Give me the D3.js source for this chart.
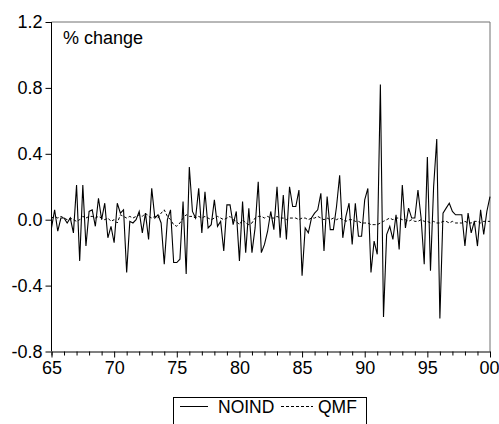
<!DOCTYPE html>
<html>
<head>
<meta charset="utf-8">
<script src="https://cdn.jsdelivr.net/npm/d3@7"></script>
<style>
  body { margin: 0; background: #fff; }
  svg { display: block; }
  text { font-family: "Liberation Sans", Arial, sans-serif; fill: #000; }
</style>
</head>
<body>
<svg id="chart" width="499" height="424"></svg>
<script>
// quarterly % change, 1965Q1 .. 2000Q1
const startYear = 1965;
const noind = [
  -0.05, 0.06, -0.07, 0.01, 0.01, -0.02, 0.01, -0.08, 0.21, -0.25,
  0.21, -0.16, 0.05, 0.06, -0.04, 0.13, 0.00, 0.10, -0.11, -0.04,
  -0.14, 0.10, 0.04, 0.06, -0.32, -0.01, -0.02, 0.00, 0.05, -0.08,
  0.04, -0.12, 0.19, 0.01, 0.03, -0.02, -0.27, 0.00, 0.06, -0.26,
  -0.26, -0.24, 0.11, -0.33, 0.32, 0.05, 0.01, 0.19, -0.08, 0.17,
  -0.05, -0.03, 0.12, -0.04, -0.01, -0.19, 0.09, 0.09, -0.03, 0.05,
  -0.25, 0.11, -0.20, 0.07, -0.20, -0.05, 0.23, -0.20, -0.15, -0.07,
  0.05, -0.06, 0.20, -0.11, 0.15, -0.12, 0.20, 0.08, 0.08, 0.18,
  -0.34, -0.05, -0.08, 0.01, 0.04, 0.06, 0.16, -0.19, 0.14, -0.06,
  -0.06, 0.08, 0.27, -0.11, 0.02, 0.10, -0.15, 0.10, -0.10, -0.10,
  0.12, 0.19, -0.32, -0.13, -0.21, 0.82, -0.59, -0.09, -0.04, -0.12,
  0.03, -0.18, 0.21, -0.05, 0.07, 0.01, 0.01, 0.18, 0.01, -0.27,
  0.38, -0.31, 0.20, 0.49, -0.60, 0.04, 0.07, 0.10, 0.05, 0.03,
  0.03, 0.03, -0.16, 0.04, -0.08, -0.01, -0.16, 0.06, -0.09, 0.05,
  0.14
];
const qmf = [
  0.01, 0.02, 0.01, 0.02, 0.01, 0.00, 0.01, 0.00, -0.01, 0.00,
  0.02, 0.01, 0.02, 0.02, 0.01, 0.02, 0.01, 0.00, 0.01, -0.01,
  0.00, -0.02, 0.03, 0.02, 0.01, 0.02, 0.01, 0.02, 0.03, 0.02,
  0.04, 0.02, 0.01, 0.02, 0.01, 0.04, 0.06, 0.02, 0.00, -0.03,
  -0.04, -0.02, 0.01, 0.03, 0.02, 0.02, 0.01, 0.02, 0.01, 0.02,
  0.01, 0.00, 0.01, 0.02, 0.01, 0.00, 0.01, 0.02, 0.00, -0.01,
  -0.03, 0.00, -0.02, -0.03, -0.02, 0.01, 0.02, 0.02, 0.01, 0.02,
  0.01, 0.01, 0.02, 0.01, 0.01, 0.00, 0.01, 0.01, 0.01, 0.00,
  0.01, 0.01, 0.00, 0.01, 0.01, 0.02, 0.01, 0.00, 0.01, 0.00,
  0.01, 0.00, 0.01, 0.00, -0.01, 0.00, 0.00, -0.01, -0.01, -0.02,
  -0.02, -0.02, -0.03, -0.03, -0.03, -0.02, -0.01, 0.00, 0.01, 0.00,
  0.01, 0.01, 0.00, 0.00, -0.01, 0.00, -0.01, -0.01, 0.00, -0.01,
  -0.01, -0.02, -0.01, -0.02, -0.02, -0.01, -0.01, -0.02, -0.01, -0.02,
  -0.02, -0.02, -0.01, -0.02, -0.02, -0.01, -0.01, -0.02, -0.01, -0.01,
  -0.01
];
const yTicks = [-0.8, -0.4, 0.0, 0.4, 0.8, 1.2];
const xLabelYears = [1965, 1970, 1975, 1980, 1985, 1990, 1995, 2000];
const seriesNames = ["NOIND", "QMF"];

const svg = d3.select("#chart");
const plot = { left: 51.5, right: 490, top: 22, bottom: 351.5 };

const x = d3.scaleLinear().domain([1965, 2000]).range([plot.left, plot.right]);
const y = d3.scaleLinear().domain([-0.8, 1.2]).range([plot.bottom, plot.top]);

// frame: top/right in grey, axes in black
svg.append("line")
  .attr("x1", plot.left).attr("x2", plot.right)
  .attr("y1", plot.top).attr("y2", plot.top)
  .attr("stroke", "#707070");
svg.append("line")
  .attr("x1", plot.right).attr("x2", plot.right)
  .attr("y1", plot.top).attr("y2", plot.bottom)
  .attr("stroke", "#707070");

// y axis (plain hyphen for negatives, like the original)
const yAxis = d3.axisLeft(y)
  .tickValues(yTicks)
  .tickSize(6)
  .tickPadding(3)
  .tickFormat(d => d3.format(".1f")(d).replace("\u2212", "-"));
const gy = svg.append("g")
  .attr("transform", `translate(${plot.left},0)`)
  .call(yAxis);

// x axis, a tick every year, longer every five
const gx = svg.append("g")
  .attr("transform", `translate(0,${plot.bottom})`)
  .call(d3.axisBottom(x)
    .tickValues(d3.range(1965, 2001))
    .tickSize(4)
    .tickFormat(""));
gx.selectAll(".tick line")
  .filter(d => xLabelYears.includes(d))
  .attr("y2", 6);
gx.selectAll(".tick")
  .filter(d => xLabelYears.includes(d))
  .select("text")
  .attr("y", 10)
  .text(d => String(d % 100).padStart(2, "0"));
// keep "00" inside the window
gx.selectAll(".tick")
  .filter(d => d === 2000)
  .select("text")
  .attr("dx", -1);

[gx, gy].forEach(g => {
  g.select(".domain").attr("stroke", "#000");
  g.selectAll(".tick line").attr("stroke", "#000");
  g.selectAll("text").attr("font-size", 18).attr("fill", "#000")
    .style("font-family", "'Liberation Sans', Arial, sans-serif");
});
gy.select(".domain").attr("d", `M-0,${plot.bottom}V${plot.top}`);

svg.append("text")
  .attr("x", 63).attr("y", 44)
  .attr("font-size", 18)
  .text("% change");

// series
const line = d3.line()
  .x((d, i) => x(startYear + i / 4))
  .y(d => y(d));

svg.append("path")
  .datum(qmf)
  .attr("fill", "none")
  .attr("stroke", "#000")
  .attr("stroke-width", 1)
  .attr("stroke-dasharray", "3,2")
  .attr("d", line);

svg.append("path")
  .datum(noind)
  .attr("fill", "none")
  .attr("stroke", "#000")
  .attr("stroke-width", 1.1)
  .attr("d", line);

// legend
const lg = svg.append("g");
lg.append("rect")
  .attr("x", 173.5).attr("y", 397.5)
  .attr("width", 193).attr("height", 40)
  .attr("fill", "none")
  .attr("stroke", "#000");
lg.append("line")
  .attr("x1", 180).attr("x2", 208).attr("y1", 406.5).attr("y2", 406.5)
  .attr("stroke", "#000");
lg.append("text")
  .attr("x", 218).attr("y", 413)
  .attr("font-size", 17.5)
  .text(seriesNames[0]);
lg.append("line")
  .attr("x1", 281).attr("x2", 313).attr("y1", 406.5).attr("y2", 406.5)
  .attr("stroke", "#000")
  .attr("stroke-dasharray", "3,2");
lg.append("text")
  .attr("x", 318).attr("y", 413)
  .attr("font-size", 17.5)
  .text(seriesNames[1]);
</script>
</body>
</html>
